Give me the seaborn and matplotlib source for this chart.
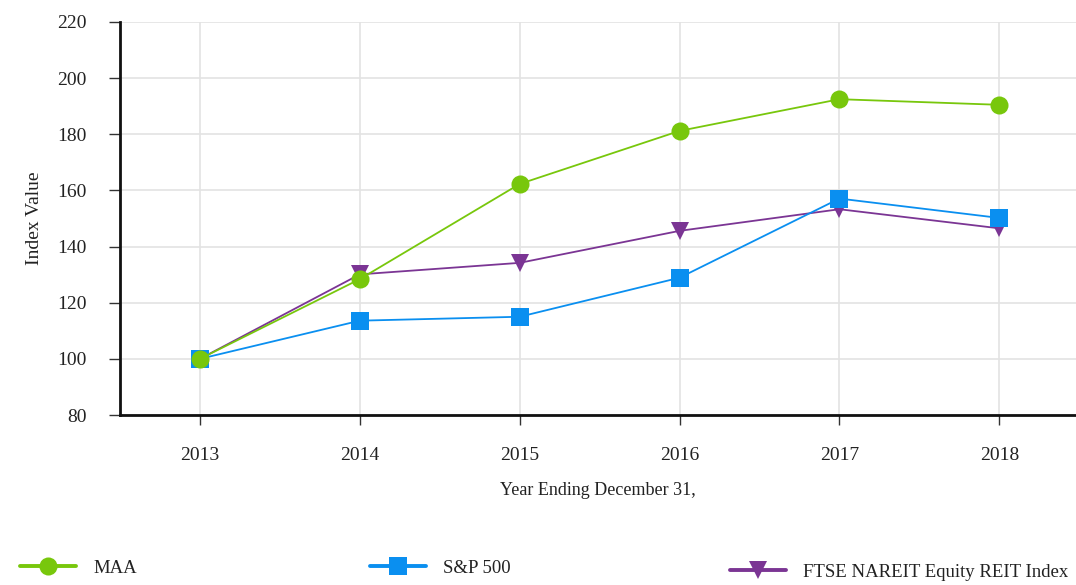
import matplotlib
matplotlib.use("Agg")
import matplotlib.pyplot as plt
import seaborn as sns
import pandas as pd
from matplotlib.lines import Line2D

years = [2013, 2014, 2015, 2016, 2017, 2018]
maa = [100, 128.4, 162.3, 181.2, 192.5, 190.5]
sp500 = [100, 113.6, 115.0, 128.9, 157.1, 150.2]
ftse = [100, 130.1, 134.2, 145.6, 153.3, 146.5]
series_names = ["MAA", "S&P 500", "FTSE NAREIT Equity REIT Index"]

colors = {"MAA": "#78c70c", "S&P 500": "#0a8ff0", "FTSE NAREIT Equity REIT Index": "#7b3594"}
markers = {"MAA": "o", "S&P 500": "s", "FTSE NAREIT Equity REIT Index": "v"}
msizes = {"MAA": 13, "S&P 500": 13.5, "FTSE NAREIT Equity REIT Index": 12.5}

df = pd.DataFrame({
    "year": years * 3,
    "value": maa + sp500 + ftse,
    "series": [series_names[0]] * 6 + [series_names[1]] * 6 + [series_names[2]] * 6,
})

sns.set_theme(style="white")
plt.rcParams["font.family"] = ["Liberation Serif", "DejaVu Serif"]

fig = plt.figure(figsize=(10.76, 5.85), dpi=100)
ax = fig.add_axes([120 / 1076, 1 - 415 / 585, (1076 - 120) / 1076, (415 - 22) / 585])

# draw in z-order: FTSE, S&P, MAA on top
for name in [series_names[2], series_names[1], series_names[0]]:
    sub = df[df["series"] == name]
    sns.lineplot(data=sub, x="year", y="value", ax=ax, color=colors[name],
                 marker=markers[name], markersize=msizes[name], markeredgewidth=0,
                 linewidth=1.3, legend=False)

ax.set_xlim(2012.5, 2018.48)
ax.set_ylim(80, 220)
ax.set_yticks(range(80, 221, 20))
ax.set_xticks(years)
ax.grid(True, color="#e3e3e3", linewidth=1.2)
ax.set_axisbelow(True)
for s in ["top", "right"]:
    ax.spines[s].set_visible(False)
for s in ["left", "bottom"]:
    ax.spines[s].set_color("#111111")
    ax.spines[s].set_linewidth(2)
ax.tick_params(axis="y", which="major", length=8, width=1, color="#333333",
               labelsize=14, labelcolor="#222222", direction="out", left=True, pad=16)
ax.tick_params(axis="x", which="major", length=7, width=1, color="#333333",
               labelsize=14, labelcolor="#222222", direction="out", bottom=True, pad=16)
ax.set_xlabel("Year Ending December 31,", fontsize=13, color="#222222", labelpad=13)
ax.set_ylabel("Index Value", fontsize=14, color="#222222", labelpad=10)

# legends
anchors = [(20 / 1076, 1 - 568 / 585), (370 / 1076, 1 - 568 / 585), (730 / 1076, 1 - 572 / 585)]
for name, anc in zip(series_names, anchors):
    h = Line2D([0], [0], color=colors[name], marker=markers[name], markersize=msizes[name],
               markeredgewidth=0, linewidth=2.8)
    fig.legend(handles=[h], labels=[name], loc="center left", bbox_to_anchor=anc,
               frameon=False, fontsize=13.5, handlelength=3.0, borderpad=0, borderaxespad=0,
               handletextpad=0.9, labelcolor="#222222")

fig.savefig("out.png", dpi=100)
